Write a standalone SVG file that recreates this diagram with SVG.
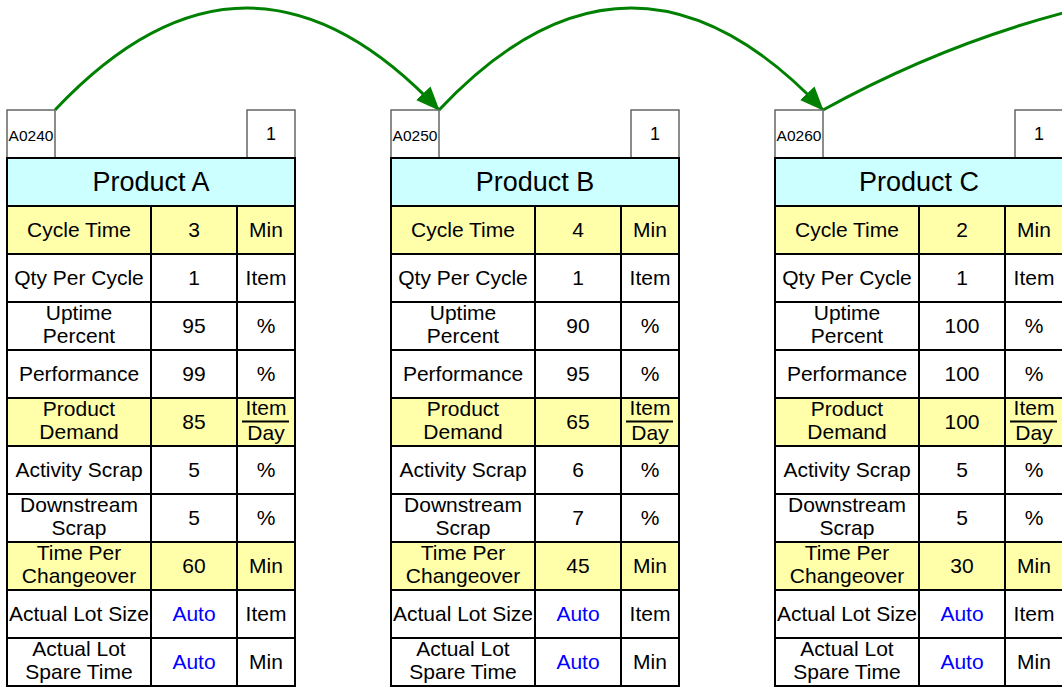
<svg xmlns="http://www.w3.org/2000/svg" xmlns:xlink="http://www.w3.org/1999/xlink" width="1062" height="687" viewBox="0 0 1062 687">
<style>
text{font-family:"Liberation Sans",Arial,sans-serif;fill:#000;text-anchor:middle}
.hd{font-size:15.5px}
.no{font-size:18px}
.ti{font-size:27px}
.c{font-size:21px}
.auto{fill:#0000ff}
.box{fill:#fff;stroke:#666;stroke-width:1.5}
.ln{stroke:#000;stroke-width:2;fill:none}
.conn{fill:none;stroke:#008000;stroke-width:3}
</style>
<defs>
<marker id="ah" markerUnits="userSpaceOnUse" markerWidth="26" markerHeight="22" refX="23" refY="10" orient="auto">
<path d="M0,0 L24,10 L0,20 z" fill="#008000"/>
</marker>
<g id="grid">
<rect class="box" x="7" y="110" width="48" height="48"/>
<rect class="box" x="247" y="110" width="48" height="48"/>
<rect x="7" y="158" width="288" height="48" fill="#ccffff"/>
<rect x="7" y="206" width="288" height="480" fill="#fff"/>
<rect x="7" y="206" width="288" height="48" fill="#ffffaa"/>
<rect x="7" y="398" width="288" height="48" fill="#ffffaa"/>
<rect x="7" y="542" width="288" height="48" fill="#ffffaa"/>
<path class="ln" d="M7,206H295M7,254H295M7,302H295M7,350H295M7,398H295M7,446H295M7,494H295M7,542H295M7,590H295M7,638H295M151,206V686M237,206V686"/>
<rect class="ln" x="7" y="158" width="288" height="528"/>
<path d="M242,421.5H289" stroke="#000" stroke-width="2"/>
<g class="c">
<text x="79" y="237">Cycle Time</text>
<text x="79" y="285">Qty Per Cycle</text>
<text x="79" y="320">Uptime</text><text x="79" y="343">Percent</text>
<text x="79" y="381">Performance</text>
<text x="79" y="416">Product</text><text x="79" y="439">Demand</text>
<text x="79" y="477">Activity Scrap</text>
<text x="79" y="512">Downstream</text><text x="79" y="535">Scrap</text>
<text x="79" y="560">Time Per</text><text x="79" y="583">Changeover</text>
<text x="79" y="621">Actual Lot Size</text>
<text x="79" y="656">Actual Lot</text><text x="79" y="679">Spare Time</text>
<text x="266" y="237">Min</text>
<text x="266" y="285">Item</text>
<text x="266" y="333">%</text>
<text x="266" y="381">%</text>
<text x="266" y="415">Item</text><text x="266" y="440">Day</text>
<text x="266" y="477">%</text>
<text x="266" y="525">%</text>
<text x="266" y="573">Min</text>
<text x="266" y="621">Item</text>
<text x="266" y="669">Min</text>
<text class="auto" x="194" y="621">Auto</text>
<text class="auto" x="194" y="669">Auto</text>
</g>
<text class="no" x="271" y="140">1</text>
</g>
</defs>
<g id="connectors">
<path class="conn" d="M55,110 Q247,-94 439,110" marker-end="url(#ah)"/>
<path class="conn" d="M439,110 Q631,-94 823,110" marker-end="url(#ah)"/>
<path class="conn" d="M823,110 Q1000,12 1200,-14"/>
</g>
<g id="node-A0240">
<use xlink:href="#grid"/>
<text class="hd" x="31" y="141">A0240</text>
<text class="ti" x="151" y="191">Product A</text>
<g class="c">
<text x="194" y="237">3</text>
<text x="194" y="285">1</text>
<text x="194" y="333">95</text>
<text x="194" y="381">99</text>
<text x="194" y="429">85</text>
<text x="194" y="477">5</text>
<text x="194" y="525">5</text>
<text x="194" y="573">60</text>
</g>
</g>
<g id="node-A0250" transform="translate(384,0)">
<use xlink:href="#grid"/>
<text class="hd" x="31" y="141">A0250</text>
<text class="ti" x="151" y="191">Product B</text>
<g class="c">
<text x="194" y="237">4</text>
<text x="194" y="285">1</text>
<text x="194" y="333">90</text>
<text x="194" y="381">95</text>
<text x="194" y="429">65</text>
<text x="194" y="477">6</text>
<text x="194" y="525">7</text>
<text x="194" y="573">45</text>
</g>
</g>
<g id="node-A0260" transform="translate(768,0)">
<use xlink:href="#grid"/>
<text class="hd" x="31" y="141">A0260</text>
<text class="ti" x="151" y="191">Product C</text>
<g class="c">
<text x="194" y="237">2</text>
<text x="194" y="285">1</text>
<text x="194" y="333">100</text>
<text x="194" y="381">100</text>
<text x="194" y="429">100</text>
<text x="194" y="477">5</text>
<text x="194" y="525">5</text>
<text x="194" y="573">30</text>
</g>
</g>
</svg>
